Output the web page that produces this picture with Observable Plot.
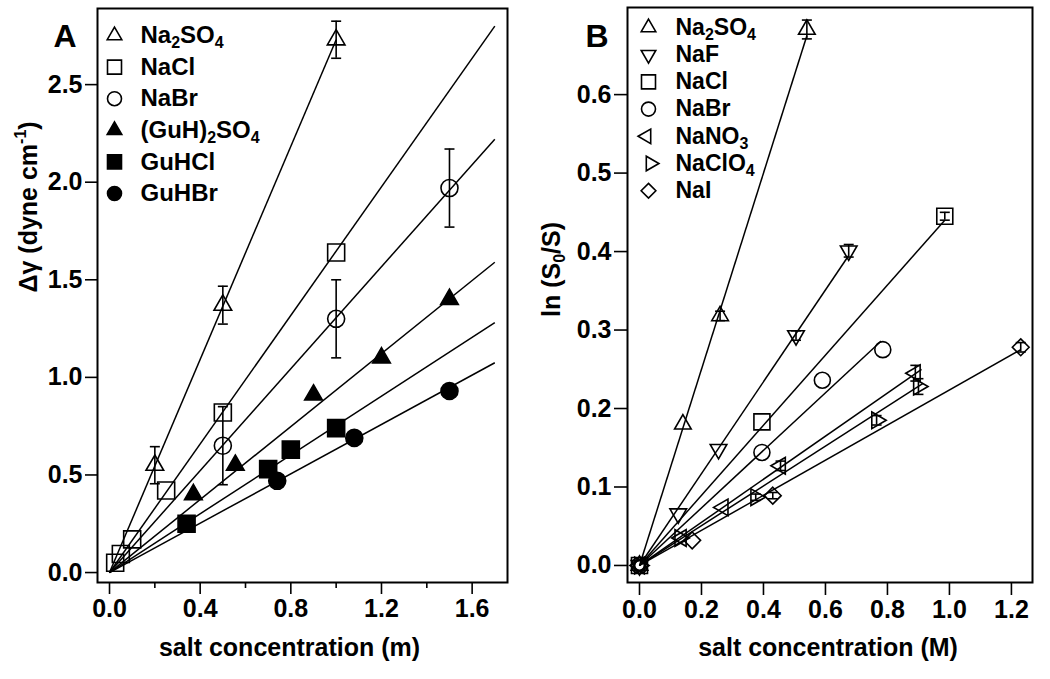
<!DOCTYPE html>
<html><head><meta charset="utf-8">
<script src="https://cdn.jsdelivr.net/npm/d3@7"></script>
<script src="https://cdn.jsdelivr.net/npm/@observablehq/plot@0.6"></script>
<style>
body{margin:0;background:#fff;}
#wrap{display:flex;width:1050px;height:679px;}
</style></head><body><div id="wrap"></div>
<script>
// ---------- Panel A data: Δγ vs salt concentration (m) ----------
const saltsA   = ["Na_2SO_4","NaCl","NaBr","(GuH)_2SO_4","GuHCl","GuHBr"];
const symbolsA = ["triangle","square","circle","triangle","square","circle"];
const filledA  = [false,false,false,true,true,true];
const A_Na2SO4   = [[0.2,0.55],[0.5,1.37],[1.0,2.73]];
const A_Na2SO4_err = [0.095,0.097,0.095];
const A_NaCl     = [[0.025,0.05],[0.05,0.095],[0.1,0.17],[0.25,0.42],[0.5,0.82],[1.0,1.64]];
const A_NaBr     = [[0.5,0.65],[1.0,1.30],[1.5,1.97]];
const A_NaBr_err = [0.2,0.2,0.2];
const A_GuH2SO4  = [[0.37,0.40],[0.555,0.55],[0.9,0.91],[1.2,1.10],[1.5,1.40]];
const A_GuHCl    = [[0.34,0.25],[0.70,0.53],[0.80,0.63],[1.0,0.74]];
const A_GuHBr    = [[0.74,0.47],[1.08,0.69],[1.5,0.93]];
const fitA_x2 = [1.0,1.70,1.70,1.70,1.70,1.70];
const fitA_y2 = [2.73,2.80,2.22,1.59,1.28,1.075];
const ticksA_x = [0,0.4,0.8,1.2,1.6];
const minorA_x = [0.2,0.6,1.0,1.4];
const ticksA_y = [0,0.5,1.0,1.5,2.0,2.5];

// ---------- Panel B data: ln(S0/S) vs salt concentration (M) ----------
const saltsB   = ["Na_2SO_4","NaF","NaCl","NaBr","NaNO_3","NaClO_4","NaI"];
const symbolsB = ["triangle","triangle-down","square","circle","triangle-left","triangle-right","diamond"];
const B_Na2SO4  = [[0,0],[0.14,0.18],[0.26,0.318],[0.54,0.683]];
const B_Na2SO4_err = [0,0,0.006,0.012];
const B_NaF     = [[0,0],[0.125,0.066],[0.255,0.148],[0.505,0.293],[0.675,0.401]];
const B_NaF_err = [0,0,0,0.006,0.008];
const B_NaCl    = [[0,0],[0.395,0.183],[0.985,0.445]];
const B_NaCl_err = [0,0,0.005];
const B_NaBr    = [[0,0],[0.395,0.144],[0.59,0.236],[0.785,0.275]];
const B_NaNO3   = [[0,0],[0.135,0.035],[0.27,0.074],[0.455,0.127],[0.89,0.245]];
const B_NaNO3_err = [0,0,0,0.006,0.01];
const B_NaClO4  = [[0,0],[0.13,0.035],[0.375,0.087],[0.765,0.185],[0.9,0.228]];
const B_NaClO4_err = [0,0,0.004,0.006,0.01];
const B_NaI     = [[0,0],[0.17,0.032],[0.43,0.089],[1.23,0.278]];
const B_NaI_err = [0,0,0.004,0.006];
const fitB_x2 = [0.54,0.675,0.985,0.78,0.91,0.915,1.23];
const fitB_y2 = [0.675,0.395,0.44,0.286,0.25,0.232,0.275];
const ticksB_x = [0,0.2,0.4,0.6,0.8,1.0,1.2];
const ticksB_y = [0,0.1,0.2,0.3,0.4,0.5,0.6];

// ---------- symbols ----------
function poly(pts){return {draw(ctx,size){const r=Math.sqrt(size/Math.PI);ctx.moveTo(pts[0][0]*r,pts[0][1]*r);for(let i=1;i<pts.length;i++)ctx.lineTo(pts[i][0]*r,pts[i][1]*r);ctx.closePath();}};}
function tri(deg){const R=1.2,p=[];for(let k=0;k<3;k++){const a=(deg+k*120)*Math.PI/180;p.push([R*Math.cos(a),R*Math.sin(a)]);}return poly(p);}
const SYM = {
  "triangle": tri(-90), "triangle-down": tri(90), "triangle-left": tri(180), "triangle-right": tri(0),
  "square": poly([[-1,-1],[1,-1],[1,1],[-1,1]]),
  "diamond": poly([[0,-1.05],[1.05,0],[0,1.05],[-1.05,0]]),
  "circle": {draw(ctx,size){const r=Math.sqrt(size/Math.PI);ctx.moveTo(r,0);ctx.arc(0,0,r,0,2*Math.PI);}},
  "cap": {draw(ctx,size){const r=Math.sqrt(size/Math.PI);ctx.moveTo(-r,0);ctx.lineTo(r,0);}}
};

function rows(points, errs, salt){return points.map(([x,y],j)=>({salt,x,y,err:errs?errs[j]:0}));}

const pointsA = [rows(A_Na2SO4,A_Na2SO4_err,saltsA[0]),rows(A_NaCl,null,saltsA[1]),rows(A_NaBr,A_NaBr_err,saltsA[2]),
  rows(A_GuH2SO4,null,saltsA[3]),rows(A_GuHCl,null,saltsA[4]),rows(A_GuHBr,null,saltsA[5])];
const pointsB = [rows(B_Na2SO4,B_Na2SO4_err,saltsB[0]),rows(B_NaF,B_NaF_err,saltsB[1]),rows(B_NaCl,B_NaCl_err,saltsB[2]),
  rows(B_NaBr,null,saltsB[3]),rows(B_NaNO3,B_NaNO3_err,saltsB[4]),rows(B_NaClO4,B_NaClO4_err,saltsB[5]),rows(B_NaI,B_NaI_err,saltsB[6])];
const fitsA = saltsA.map((s,i)=>({salt:s,x1:0,y1:0,x2:fitA_x2[i],y2:fitA_y2[i]}));
const fitsB = saltsB.map((s,i)=>({salt:s,x1:0,y1:0,x2:fitB_x2[i],y2:fitB_y2[i]}));

const FONT = "'Liberation Sans', Arial, Helvetica, sans-serif";
const SW = 1.6;

function seriesMarks(pointSets, syms, filled, r){
  const marks = [];
  pointSets.forEach((pts,i)=>{
    const e = pts.filter(d=>d.err>0);
    marks.push(Plot.ruleX(e,{x:"x",y1:d=>d.y-d.err,y2:d=>d.y+d.err,stroke:"black",strokeWidth:SW}));
    marks.push(Plot.dot(e,{x:"x",y:d=>d.y-d.err,symbol:SYM.cap,r:5,stroke:"black",strokeWidth:SW}));
    marks.push(Plot.dot(e,{x:"x",y:d=>d.y+d.err,symbol:SYM.cap,r:5,stroke:"black",strokeWidth:SW}));
    marks.push(Plot.dot(pts,{x:"x",y:"y",symbol:SYM[syms[i]],r,fill:filled[i]?"black":"none",stroke:"black",strokeWidth:SW}));
  });
  return marks;
}
function legendMarks(names, syms, filled, x0, y0, step, tx, r, fsz, dxs){
  const marks=[];
  names.forEach((n,i)=>{
    marks.push(Plot.dot([n],{frameAnchor:"top-left",dx:x0+(dxs?dxs[i]:0),dy:y0+i*step,symbol:SYM[syms[i]],r,fill:filled[i]?"black":"none",stroke:"black",strokeWidth:SW}));
    marks.push(Plot.text([n],{text:d=>d,frameAnchor:"top-left",dx:tx,dy:y0+i*step,textAnchor:"start",lineAnchor:"middle",fontSize:fsz}));
  });
  return marks;
}

const plotA = Plot.plot({
  width:520, height:679, marginLeft:97, marginRight:13, marginTop:8, marginBottom:97,
  style:{fontFamily:FONT,fontSize:"25px",fontWeight:"bold",background:"white",color:"black",overflow:"visible"},
  x:{domain:[-0.053,1.756]}, y:{domain:[-0.051,2.89]},
  marks:[
    Plot.axisX({ticks:ticksA_x,tickSize:12,tickPadding:5,tickFormat:d3.format(".1f"),label:null,strokeWidth:SW}),
    Plot.axisX({ticks:minorA_x,tickSize:6,tickFormat:()=>"",label:null,strokeWidth:SW}),
    Plot.axisY({ticks:ticksA_y,tickSize:12,tickPadding:3,tickFormat:d3.format(".1f"),label:null,strokeWidth:SW}),
    Plot.link(fitsA,{x1:"x1",y1:"y1",x2:"x2",y2:"y2",stroke:"black",strokeWidth:1.5}),
    ...seriesMarks(pointsA,symbolsA,filledA,8.5),
    ...legendMarks(saltsA,symbolsA,filledA,17,27,31.6,43,7,24),
    Plot.frame({stroke:"black",strokeWidth:2}),
    Plot.text(["salt concentration (m)"],{text:d=>d,frameAnchor:"bottom",dx:-13,dy:73}),
    Plot.text(["Δγ (dyne cm^{-1})"],{text:d=>d,frameAnchor:"left",dx:-69,dy:-3,rotate:-90}),
    Plot.text(["A"],{text:d=>d,frameAnchor:"top-left",dx:-44,dy:16,fontSize:32})
  ]
});

const plotB = Plot.plot({
  width:530, height:679, marginLeft:107, marginRight:18, marginTop:7, marginBottom:97,
  style:{fontFamily:FONT,fontSize:"25px",fontWeight:"bold",background:"white",color:"black",overflow:"visible"},
  x:{domain:[-0.0387,1.268]}, y:{domain:[-0.0217,0.711]},
  marks:[
    Plot.axisX({ticks:ticksB_x,tickSize:13,tickPadding:5,tickFormat:d3.format(".1f"),label:null,strokeWidth:SW}),
    Plot.axisY({ticks:ticksB_y,tickSize:13,tickPadding:3,tickFormat:d3.format(".1f"),label:null,strokeWidth:SW}),
    Plot.link(fitsB,{x1:"x1",y1:"y1",x2:"x2",y2:"y2",stroke:"black",strokeWidth:1.5}),
    ...seriesMarks(pointsB,symbolsB,symbolsB.map(()=>false),8),
    ...legendMarks(saltsB,symbolsB,symbolsB.map(()=>false),21,20,27.2,48,7,23,[0,0,0,0,-2,2,0]),
    Plot.frame({stroke:"black",strokeWidth:2}),
    Plot.text(["salt concentration (M)"],{text:d=>d,frameAnchor:"bottom",dx:-2,dy:73}),
    Plot.text(["ln (S_0/S)"],{text:d=>d,frameAnchor:"left",dx:-76,dy:22,rotate:-90}),
    Plot.text(["B"],{text:d=>d,frameAnchor:"top-left",dx:-42,dy:17,fontSize:32})
  ]
});

// subscripts / superscripts: a_b or a_{bc}, a^{bc}
function richText(svg){
  d3.select(svg).selectAll("text").each(function(){
    const t=this.textContent;
    if(!/[_^]/.test(t)) return;
    const fs=parseFloat(this.getAttribute("font-size"))||25;
    const segs=[];let last=0;const re=/([_^])(?:\{([^}]*)\}|(.))/g;let m;
    while((m=re.exec(t))){ if(m.index>last) segs.push({s:t.slice(last,m.index),k:"n"}); segs.push({s:m[2]!==undefined?m[2]:m[3],k:m[1]==="_"?"sub":"sup"}); last=re.lastIndex; }
    if(last<t.length) segs.push({s:t.slice(last),k:"n"});
    this.textContent="";
    let shift=0;
    for(const g of segs){
      const ts=d3.select(this).append("tspan").text(g.s);
      let target = g.k==="sub"?0.2*fs:g.k==="sup"?-0.42*fs:0;
      if(target!==shift){ts.attr("dy",target-shift);shift=target;}
      if(g.k!=="n") ts.attr("font-size",(0.64*fs)+"px");
    }
  });
}
richText(plotA); richText(plotB);
document.getElementById("wrap").append(plotA, plotB);
</script>
</body></html>
